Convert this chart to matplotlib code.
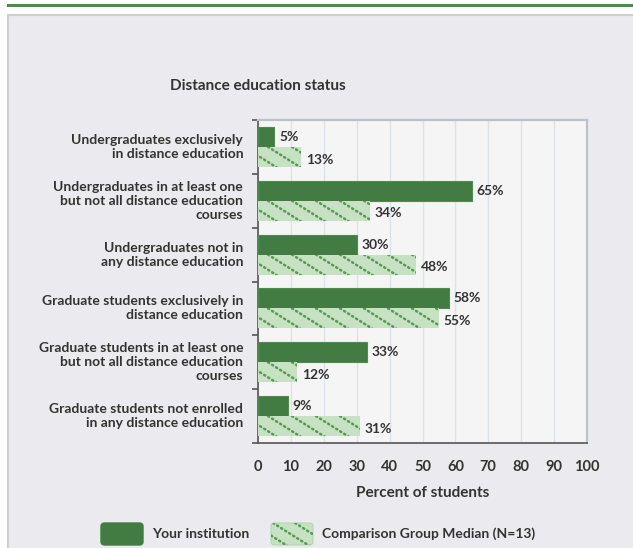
import matplotlib.pyplot as plt
import matplotlib.patches as mpatches
import numpy as np

categories = [
    "Undergraduates exclusively\nin distance education",
    "Undergraduates in at least one\nbut not all distance education\ncourses",
    "Undergraduates not in\nany distance education",
    "Graduate students exclusively in\ndistance education",
    "Graduate students in at least one\nbut not all distance education\ncourses",
    "Graduate students not enrolled\nin any distance education",
]
institution = [5, 65, 30, 58, 33, 9]
comparison = [13, 34, 48, 55, 12, 31]
xticks = [0, 10, 20, 30, 40, 50, 60, 70, 80, 90, 100]

dark = '#427C42'
light = '#C6E2C2'
dot_col = '#5A9856'
txt = '#333333'

plt.rcParams['font.family'] = ['Lato', 'DejaVu Sans']


def dotted_stripes(ax, patch, transform, spacing, run, rise, down):
    # diagonal dotted stripes clipped to a patch (stands in for the dotted hatch)
    bb = patch.get_bbox()
    x0, x1 = bb.x0, bb.x1
    h = abs(bb.y1 - bb.y0)
    top = min(bb.y0, bb.y1) if down > 0 else max(bb.y0, bb.y1)
    dx = run * h / rise * 1.2
    for s in np.arange(x0 - dx, x1 + spacing, spacing):
        ln, = ax.plot([s, s + dx], [top, top + down * h * 1.2], transform=transform,
                      color=dot_col, lw=1.8, linestyle=(0, (0.5, 1.4)),
                      dash_capstyle='round', zorder=patch.get_zorder() + 0.1)
        ln.set_clip_path(patch)


W, H = 633, 548
fig = plt.figure(figsize=(W / 100, H / 100), dpi=100)
fig.patch.set_facecolor('white')

# top green rule and gray panel (behind the axes)
fig.patches.append(mpatches.Rectangle((7 / W, 1 - 7 / H), 1, 3 / H, transform=fig.transFigure,
                                      color='#4E8A4E', lw=0, zorder=-2))
fig.patches.append(mpatches.Rectangle((8 / W, -0.01), 1, 1 - 15 / H + 0.01, transform=fig.transFigure,
                                      facecolor='#EBEBEF', edgecolor='#CFCFD1', lw=1.5, zorder=-2))

ax = fig.add_axes([258 / W, 1 - 443 / H, 329 / W, 323 / H])
ax.set_facecolor('#F5F5F5')

y = np.arange(len(categories))
bh = 0.37
ax.barh(y - bh / 2, institution, height=bh, color=dark, edgecolor='#4F8A4F', lw=0.8, zorder=3)
light_bars = ax.barh(y + bh / 2, comparison, height=bh, color=light, lw=0, zorder=3)

ax.set_xlim(0, 100)
ax.set_ylim(len(categories) - 0.5, -0.5)

# stripe geometry in data units: ~24 px apart, ~27 px across per 17 px down
px_x = 329 / 100
px_y = 323 / len(categories)
for b in light_bars:
    dotted_stripes(ax, b, ax.transData, 24 / px_x, 27 / px_x, 17 / px_y, 1)

for i in range(len(categories)):
    ax.text(institution[i] + 1.5, y[i] - bh / 2, f"{institution[i]}%", va='center', ha='left',
            fontsize=10, fontweight='bold', color=txt)
    ax.text(comparison[i] + 1.5, y[i] + bh / 2 + 0.05, f"{comparison[i]}%", va='center', ha='left',
            fontsize=10, fontweight='bold', color=txt)

ax.set_xticks(xticks)
ax.set_xticklabels([str(t) for t in xticks], fontsize=10.5, fontweight='bold', color=txt)
ax.tick_params(axis='x', length=0, pad=12)
ax.set_yticks(np.arange(len(categories) + 1) - 0.5)
ax.set_yticklabels([])
ax.tick_params(axis='y', length=4, width=1.2, direction='out', color='#555555')
for i, c in enumerate(categories):
    ax.text(-0.045, y[i], c, transform=ax.get_yaxis_transform(), ha='right', va='center',
            multialignment='right', fontsize=10, fontweight='bold', color=txt,
            linespacing=1.2)

ax.grid(axis='x', color='#DCE1EC', lw=1, zorder=0)
for side in ['top', 'right']:
    ax.spines[side].set_color('#BCC0C8')
    ax.spines[side].set_linewidth(1.6)
for side in ['left', 'bottom']:
    ax.spines[side].set_color('#555555')
    ax.spines[side].set_linewidth(1.2)

ax.set_xlabel("Percent of students", fontsize=11, fontweight='bold', color=txt, labelpad=9)
fig.text(258 / W, 1 - 86 / H, "Distance education status", ha='center', va='center',
         fontsize=11, fontweight='bold', color=txt)

# legend
fig.patches.append(mpatches.FancyBboxPatch((101 / W, 1 - 545 / H), 42 / W, 22 / H,
                                           boxstyle='round,pad=0,rounding_size=0.006',
                                           transform=fig.transFigure, facecolor=dark, edgecolor=dark))
leg_ax = fig.add_axes([0, 0, 1, 1], facecolor='none', zorder=5)
leg_ax.set_axis_off()
leg_light = mpatches.FancyBboxPatch((271 / W, 1 - 545 / H), 42 / W, 22 / H,
                                    boxstyle='round,pad=0,rounding_size=0.006',
                                    transform=fig.transFigure, facecolor=light,
                                    edgecolor='#B5D6B0', lw=0.8, zorder=1)
leg_ax.add_artist(leg_light)
leg_light.set_transform(fig.transFigure)
dotted_stripes(leg_ax, leg_light, fig.transFigure, 22 / W, 27 / W, 17 / H, -1)

fig.text(152 / W, 1 - 534 / H, "Your institution", ha='left', va='center',
         fontsize=10, fontweight='bold', color=txt)
fig.text(322 / W, 1 - 534 / H, "Comparison Group Median (N=13)", ha='left', va='center',
         fontsize=10, fontweight='bold', color=txt)

fig.savefig('out.png', dpi=100)
